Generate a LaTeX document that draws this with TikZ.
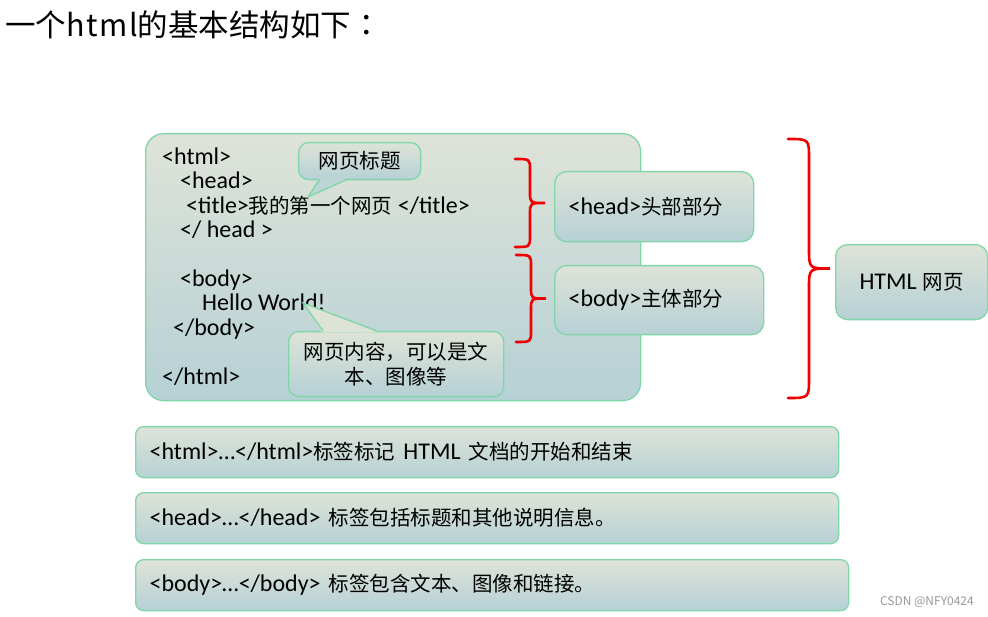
\documentclass[tikz,border=0pt]{standalone}
\usepackage{fontspec}
\setmainfont{Carlito}[Scale=1.17]
\newfontfamily\zhfont{Noto Sans CJK SC}
\newfontfamily\zhtc{Noto Sans CJK TC}
\newcommand\zh[1]{{\zhfont #1}}
\definecolor{topc}{RGB}{222,227,216}
\definecolor{botc}{RGB}{182,209,213}
\definecolor{bordc}{RGB}{128,214,168}
\definecolor{bracec}{RGB}{240,0,0}
\newcommand\mybrace[5]{% x0 x1 ytop ybot r
  \pgfmathsetmacro\xm{(#1+#2)/2}\pgfmathsetmacro\ym{(#3+#4)/2}%
  \draw[bracestyle] (#1,#3) .. controls ({\xm},#3) .. ({\xm},{#3+#5})
    -- ({\xm},{\ym-#5}) .. controls ({\xm},{\ym}) .. (#2,{\ym})
    .. controls ({\xm},{\ym}) .. ({\xm},{\ym+#5})
    -- ({\xm},{#4-#5}) .. controls ({\xm},#4) .. (#1,#4);}
\tikzset{
  basefont/.style={font=\fontsize{20.5}{25}\selectfont},
  grad/.style={top color=topc, bottom color=botc, draw=bordc, line width=1.3pt},
  box/.style={grad, rounded corners=12pt, inner xsep=14pt, inner ysep=0pt,
    anchor=north west, align=left, basefont},
  callbox/.style={grad, rounded corners=10pt, inner sep=0pt, anchor=north west,
    align=center, basefont},
  code/.style={anchor=base west, inner sep=0pt, basefont},
  bracestyle/.style={draw=bracec, line width=2.6pt, line cap=round},
  tailb/.style={draw=bordc, line width=1.3pt},
}
\begin{document}
\begin{tikzpicture}[x=1pt,y=-1pt]
\useasboundingbox (0,0) rectangle (988,617);
\fill[white] (0,0) rectangle (988,617);

% title
\node[anchor=west, inner sep=0pt, font=\fontsize{30.5}{32}\selectfont\zhfont] (title) at (5,25)
  {一个{\addfontfeature{LetterSpace=5}html}的基本结构如下{\zhtc ：}};

% big code box
\node[grad, rounded corners=18pt, anchor=north west, inner sep=0pt,
  minimum width=495pt, minimum height=267pt] (codebox) at (145,133) {};

\node[code] (l1) at (162,164.5) {<html>};
\node[code] (l2) at (180,188.5) {<head>};
\node[code] (l3) at (186,213.5) {<title>\zh{我的第一个网页} </title>};
\node[code] (l4) at (180,238) {</ head >};
\node[code] (l5) at (180,286.5) {<body>};
\node[code] (l6) at (202,311) {Hello World!};
\node[code] (l7) at (173,335.5) {</body>};
\node[code] (l8) at (162,384.5) {</html>};

% callout 1
\node[callbox, minimum width=122pt, minimum height=37pt] (call1) at (298,142) {\zh{网页标题}};
\coordinate (t1a) at (320,179);
\coordinate (t1b) at (348,179);
\coordinate (tip1) at (308,197);
\fill[botc!80!topc] (319,177.5) -- (tip1) -- (349,177.5) -- cycle;
\draw[tailb] (t1a) -- (tip1) -- (t1b);

% callout 2
\node[callbox, minimum width=215pt, minimum height=65pt] (call2) at (288,331)
  {\zh{网页内容，可以是文}\\\zh{本、图像等}};
\coordinate (t2a) at (323,331);
\coordinate (t2b) at (377,331);
\coordinate (tip2) at (303,303);
\fill[topc] (322,332.5) -- (tip2) -- (378,332.5) -- cycle;
\draw[tailb] (t2a) -- (tip2) -- (t2b);

% braces
\mybrace{515}{545}{159}{247}{11}
\mybrace{516}{546}{255}{342}{11}
\mybrace{788}{830}{139}{398}{20}

% side boxes
\node[box, minimum width=199pt, minimum height=70pt, text width=171pt] (headbox) at (554,171)
  {<head>\zh{头部部分}};
\node[box, minimum width=209pt, minimum height=69pt, text width=181pt] (bodybox) at (554,265)
  {<body>\zh{主体部分}};
\node[box, align=center, minimum width=152pt, minimum height=75pt, text width=124pt] (htmlbox) at (835,244)
  {HTML\hspace{0.25em}\zh{网页}};

% bottom boxes
\node[box, rounded corners=8pt, minimum width=703pt, minimum height=51pt, text width=675pt] (b1) at (135,426)
  {<html>…</html>\zh{标签标记} HTML \zh{文档的开始和结束}};
\node[box, rounded corners=8pt, minimum width=703pt, minimum height=51pt, text width=675pt] (b2) at (135,492)
  {<head>…</head> \zh{标签包括标题和其他说明信息。}};
\node[box, rounded corners=8pt, minimum width=713pt, minimum height=51pt, text width=685pt] (b3) at (135,559)
  {<body>…</body> \zh{标签包含文本、图像和链接。}};

% watermark
\node[anchor=east, inner sep=0pt, text=gray!80, font=\fontsize{12}{14}\selectfont\zhfont] (wm) at (974,602) {CSDN @NFY0424};
\end{tikzpicture}
\end{document}
